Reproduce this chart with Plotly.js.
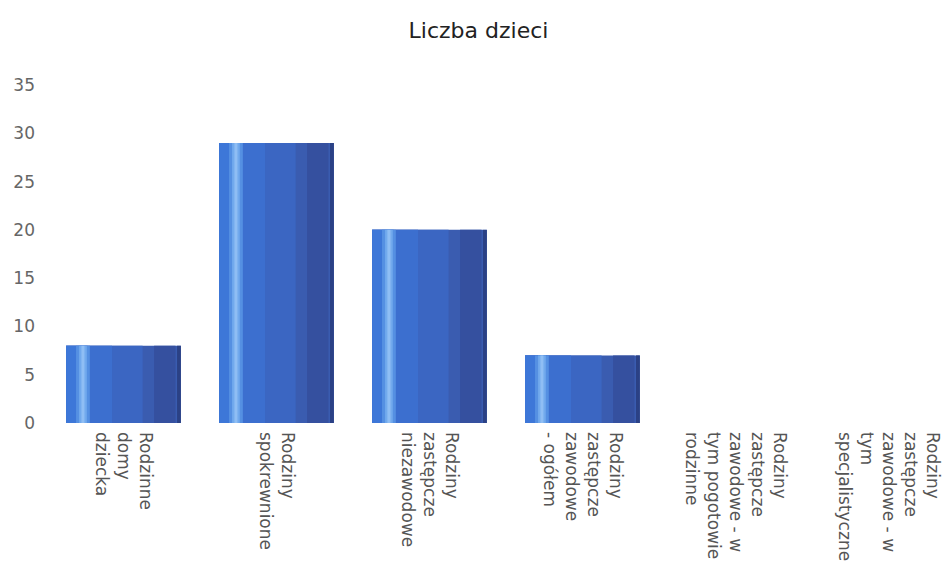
<!DOCTYPE html>
<html>
<head>
<meta charset="utf-8">
<script src="https://cdn.plot.ly/plotly-3.0.1.min.js"></script>
<style>html,body{margin:0;padding:0;background:#fff;}#chart{width:942px;height:584px;}</style>
</head>
<body>
<div id="chart"></div>
<script>
const categories = [
  "Rodzinne<br>domy<br>dziecka",
  "Rodziny<br>spokrewnione",
  "Rodziny<br>zastępcze<br>niezawodowe",
  "Rodziny<br>zastępcze<br>zawodowe<br>- ogółem",
  "Rodziny<br>zastępcze<br>zawodowe - w<br>tym pogotowie<br>rodzinne",
  "Rodziny<br>zastępcze<br>zawodowe - w<br>tym<br>specjalistyczne"
];
const liczbaDzieci = [8, 29, 20, 7, 0, 0];
const yTicks = [0, 5, 10, 15, 20, 25, 30, 35];
const chartTitle = "Liczba dzieci";

// bar shading layers (width, offset, colour) to imitate the gradient fill
const layers = [
  {w: 0.75, o: -0.375, c: "#3a5cb0"},
  {w: 0.50, o: -0.375, c: "#3b66c2"},
  {w: 0.30, o: -0.375, c: "#3c6fcf"},
  {w: 0.14, o: -0.375, c: "#3d77d8"},
  {w: 0.09, o: -0.31, c: "#5590e2"},
  {w: 0.05, o: -0.29, c: "#72aaed"},
  {w: 0.02, o: -0.275, c: "#8fbef4"},
  {w: 0.14, o: 0.20, c: "#35509f"},
  {w: 0.025, o: 0.35, c: "#2b4185"}
];

const traces = layers.map(l => ({
  type: "bar",
  x: categories,
  y: liczbaDzieci,
  width: categories.map(() => l.w),
  offset: categories.map(() => l.o),
  marker: {color: l.c, line: {width: 0}},
  hoverinfo: "skip",
  showlegend: false
}));

const layout = {
  width: 942,
  height: 584,
  margin: {l: 47, r: 0, t: 85, b: 161},
  paper_bgcolor: "#ffffff",
  plot_bgcolor: "#ffffff",
  barmode: "overlay",
  title: {
    text: chartTitle,
    font: {family: "DejaVu Sans", size: 22, color: "#222"},
    x: 0.508, xanchor: "center",
    y: 0.948, yanchor: "middle"
  },
  xaxis: {
    type: "category",
    range: [-0.5, 5.35],
    tickangle: 90,
    tickfont: {family: "DejaVu Sans", size: 17, color: "#555"},
    showgrid: false, zeroline: false, showline: false,
    ticks: "", ticklabelstandoff: 8
  },
  yaxis: {
    range: [0, 35],
    tickvals: yTicks,
    ticktext: yTicks.map(String),
    tickfont: {family: "DejaVu Sans", size: 17, color: "#666"},
    showgrid: false, zeroline: false, showline: false,
    ticks: "", ticklabelstandoff: 11
  }
};

Plotly.newPlot("chart", traces, layout, {staticPlot: true, displayModeBar: false});
</script>
</body>
</html>
